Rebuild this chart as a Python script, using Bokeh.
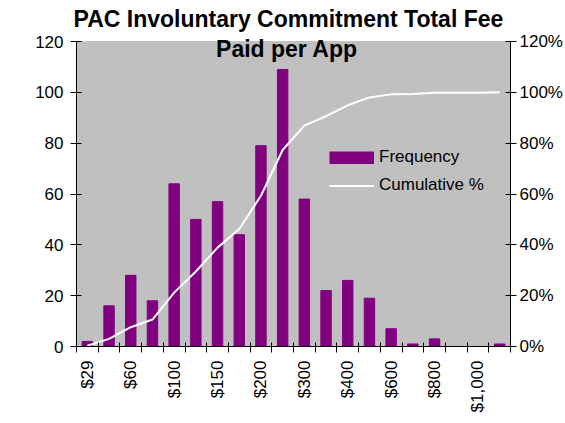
import math
from bokeh.plotting import figure
from bokeh.models import (Range1d, LinearAxis, FixedTicker, PrintfTickFormatter,
                          Label, Legend, LegendItem, BoxAnnotation)
from bokeh.embed import file_html
from bokeh.resources import INLINE

# ---- data ----
title_lines = ["PAC Involuntary Commitment Total Fee", "Paid per App"]
tick_labels = ["$29", "$60", "$100", "$150", "$200", "$300", "$400", "$600", "$800", "$1,000"]
frequency = [2, 16, 28, 18, 64, 50, 57, 44, 79, 109, 58, 22, 26, 19, 7, 1, 3, 0, 0, 1]
cumulative_pct = [0.3, 3.0, 7.6, 10.6, 21.2, 29.5, 38.9, 46.2, 59.3, 77.3,
                  86.9, 90.6, 94.9, 98.0, 99.2, 99.3, 99.8, 99.8, 99.8, 100.0]
left_ticks = [0, 20, 40, 60, 80, 100, 120]
right_ticks = [0, 20, 40, 60, 80, 100, 120]

FONT = "Liberation Sans"
PURPLE = "#800080"
n = len(frequency)
x = list(range(1, n + 1))
AXIS_MAX = 120
VIEW_MAX = 123.15   # a little room above the grey plot area for the 2nd title line

p = figure(width=565, height=423, output_backend="svg", toolbar_location=None,
           x_range=Range1d(0.5, n + 0.5), y_range=Range1d(0, VIEW_MAX),
           x_axis_type=None, y_axis_type=None,
           min_border_left=76, min_border_right=53, min_border_top=33, min_border_bottom=77)
p.extra_y_ranges = {"pct": Range1d(0, VIEW_MAX)}
p.background_fill_color = "white"
p.border_fill_color = "white"
p.outline_line_color = None

# first title line above the frame
p.title.text = title_lines[0]
p.title.align = "left"
p.title.offset = -3
p.title.standoff = 4
p.title.text_font = FONT
p.title.text_font_style = "bold"
p.title.text_font_size = "23px"
p.title.text_color = "black"

# grey plot area (0..120) with a grey border
p.add_layout(BoxAnnotation(bottom=0, top=AXIS_MAX, fill_color="#C0C0C0", fill_alpha=1,
                           line_color="#808080", line_width=1, level="underlay"))

# bottom axis: labels at every other category, tick marks at category boundaries
boundaries = [xi - 0.5 for xi in x] + [x[-1] + 0.5]
xa = LinearAxis(ticker=FixedTicker(ticks=x[::2], minor_ticks=boundaries))
xa.major_label_overrides = {xi: lab for xi, lab in zip(x[::2], tick_labels)}
xa.major_tick_line_color = None
xa.major_tick_in = 0
xa.major_tick_out = 6
xa.minor_tick_line_color = "black"
xa.minor_tick_in = 4
xa.minor_tick_out = 6
xa.axis_line_color = "black"
xa.major_label_orientation = math.pi / 2
xa.major_label_standoff = 8
xa.major_label_text_font = FONT
xa.major_label_text_font_size = "17px"
xa.major_label_text_color = "black"
p.add_layout(xa, "below")

ya = LinearAxis(ticker=FixedTicker(ticks=left_ticks), bounds=(0, AXIS_MAX))
ya.major_tick_in = 5
ya.major_tick_out = 6
ya.minor_tick_line_color = None
ya.axis_line_color = "black"
ya.major_label_standoff = 7
ya.major_label_text_font = FONT
ya.major_label_text_font_size = "17px"
ya.major_label_text_color = "black"
p.add_layout(ya, "left")

ya2 = LinearAxis(y_range_name="pct", ticker=FixedTicker(ticks=right_ticks),
                 formatter=PrintfTickFormatter(format="%d%%"), bounds=(0, AXIS_MAX))
ya2.major_tick_in = 5
ya2.major_tick_out = 6
ya2.minor_tick_line_color = None
ya2.axis_line_color = "black"
ya2.major_label_standoff = 3
ya2.major_label_text_font = FONT
ya2.major_label_text_font_size = "17px"
ya2.major_label_text_color = "black"
p.add_layout(ya2, "right")

bars = p.vbar(x=x, top=frequency, width=0.48, fill_color=PURPLE, line_color=PURPLE)
line = p.line(x=x, y=cumulative_pct, y_range_name="pct", line_color="white",
              line_width=2)
# legend swatch for the bars: a thick line (no drawable points) fills the swatch box
nan = float("nan")
bar_swatch = p.line(x=[nan], y=[nan], line_color=PURPLE, line_width=13,
                    line_cap="butt")

legend = Legend(items=[LegendItem(label="Frequency", renderers=[bar_swatch]),
                       LegendItem(label="Cumulative %", renderers=[line])],
                location=(253, 151))
legend.padding = 0
legend.margin = 0
legend.spacing = 8
legend.glyph_width = 45
legend.glyph_height = 13
legend.label_height = 20
legend.label_standoff = 5
legend.border_line_color = None
legend.background_fill_alpha = 0
legend.label_text_font = FONT
legend.label_text_font_size = "17px"
legend.label_text_color = "black"
p.add_layout(legend)

p.add_layout(Label(x=10.2, y=117.2, text=title_lines[1], text_align="center",
                   text_baseline="alphabetic", text_font=FONT,
                   text_font_style="bold", text_font_size="23px",
                   text_color="black"))

open("out.html", "w").write(file_html(p, INLINE))
